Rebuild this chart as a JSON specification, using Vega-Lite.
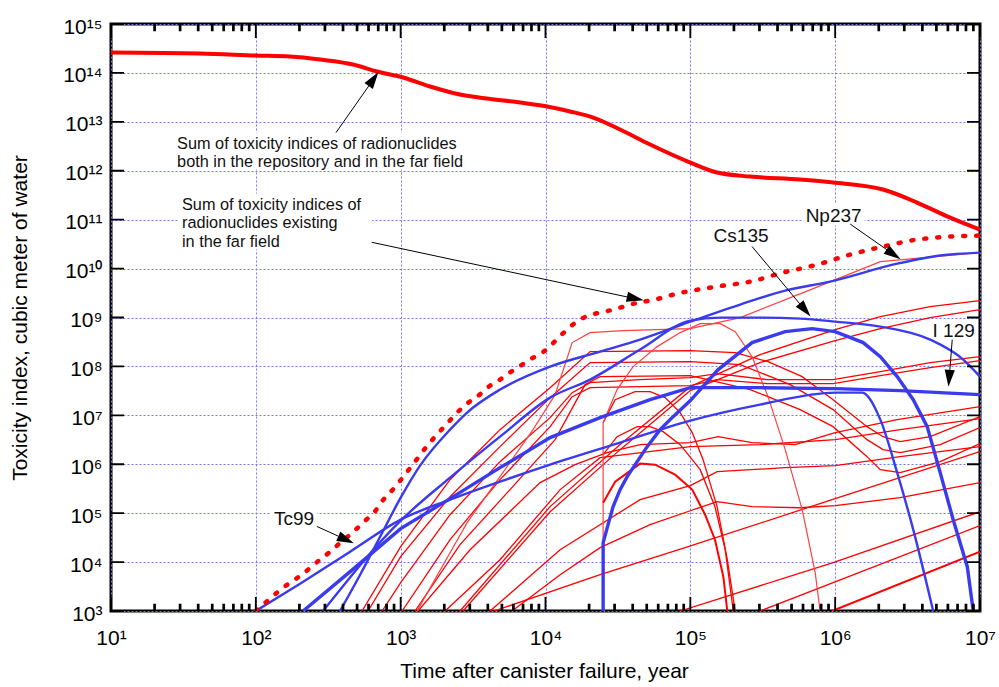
{
"$schema": "https://vega.github.io/schema/vega-lite/v6.json",
"width": 869, "height": 587,
"autosize": {"type": "none"},
"padding": {"left": 111, "top": 24, "right": 19, "bottom": 76},
"config": {
  "font": "Liberation Sans",
  "view": {"stroke": "black", "strokeWidth": 3},
  "axis": {"domain": false, "labelColor": "black", "titleColor": "black", "tickColor": "black", "labelFont": "Liberation Sans", "titleFont": "Liberation Sans", "titleFontWeight": "normal", "labelFlush": false, "labelOverlap": false}
},
"datasets": {
  "boxes": [
    {"b": "n1", "x": 27.2, "x2": 2832, "y": 6.04e12, "y2": 1.06e12},
    {"b": "n2", "x": 29.5, "x2": 634.6, "y": 3.42e11, "y2": 2.45e10},
    {"b": "np", "x": 6.01e5, "x2": 1.6e6, "y": 2.13e11, "y2": 7.57e10},
    {"b": "tc", "x": 127.4, "x2": 264.7, "y": 1.29e5, "y2": 4.82e4}
  ],
  "rt": [
    {"s":"Pa","x":541,"y":1000},{"s":"Pa","x":1000,"y":2.07e4},{"s":"Pa","x":2193,"y":4.84e5},{"s":"Pa","x":4853,"y":5.1e6},{"s":"Pa","x":10760,"y":3.68e7},{"s":"Pa","x":20320,"y":2.01e8},{"s":"Pa","x":1e5,"y":2.1e8},{"s":"Pa","x":2.04e5,"y":1.91e8},{"s":"Pa","x":3.44e5,"y":1.25e8},{"s":"Pa","x":5.92e5,"y":6.18e7},{"s":"Pa","x":9.68e5,"y":2.09e7},{"s":"Pa","x":1.66e6,"y":5.87e6},{"s":"Pa","x":2.14e6,"y":3.66e6},{"s":"Pa","x":2.81e6,"y":2.9e6},{"s":"Pa","x":4.53e6,"y":3.66e6},{"s":"Pa","x":1e7,"y":9.4e6},
    {"s":"Pb","x":595,"y":1000},{"s":"Pb","x":1000,"y":1.29e4},{"s":"Pb","x":2193,"y":2.17e5},{"s":"Pb","x":4853,"y":2.29e6},{"s":"Pb","x":10760,"y":2.3e7},{"s":"Pb","x":20320,"y":1.2e8},{"s":"Pb","x":1e5,"y":1.25e8},{"s":"Pb","x":2.21e5,"y":1.09e8},{"s":"Pb","x":4.89e5,"y":4.25e7},{"s":"Pb","x":9.68e5,"y":1.31e7},{"s":"Pb","x":1.66e6,"y":3.18e6},{"s":"Pb","x":2.14e6,"y":1.99e6},{"s":"Pb","x":2.81e6,"y":1.73e6},{"s":"Pb","x":5.31e6,"y":2.52e6},{"s":"Pb","x":1e7,"y":5.6e6},
    {"s":"Pe","x":1257,"y":1000},{"s":"Pe","x":2570,"y":2.27e4},{"s":"Pe","x":5690,"y":3.03e5},{"s":"Pe","x":11650,"y":3.18e6},{"s":"Pe","x":18760,"y":4.25e7},{"s":"Pe","x":23820,"y":6.18e7},{"s":"Pe","x":1e5,"y":6.49e7},{"s":"Pe","x":2.59e5,"y":3.36e7},{"s":"Pe","x":5.73e5,"y":1.31e7},{"s":"Pe","x":9.68e5,"y":5.87e6},{"s":"Pe","x":1.66e6,"y":1.43e6},{"s":"Pe","x":2.05e6,"y":7.76e5},{"s":"Pe","x":2.81e6,"y":6.73e5},{"s":"Pe","x":5.31e6,"y":1.13e6},{"s":"Pe","x":1e7,"y":2.64e6},
    {"s":"Pc","x":745,"y":1000},{"s":"Pc","x":1000,"y":3.79e3},{"s":"Pc","x":2193,"y":9.31e4},{"s":"Pc","x":4853,"y":1.13e6},{"s":"Pc","x":10760,"y":8.97e6},{"s":"Pc","x":15280,"y":2.91e7},{"s":"Pc","x":20320,"y":4.67e7},{"s":"Pc","x":45000,"y":5.37e7},{"s":"Pc","x":1e5,"y":5.9e7},{"s":"Pc","x":1.53e5,"y":7.13e7},{"s":"Pc","x":3.4e5,"y":5.37e7},{"s":"Pc","x":9.68e5,"y":5.37e7},{"s":"Pc","x":2.05e6,"y":7.83e7},{"s":"Pc","x":4.53e6,"y":1.2e8},{"s":"Pc","x":1e7,"y":1.58e8},
    {"s":"Pd","x":1023,"y":1000},{"s":"Pd","x":2193,"y":2.87e4},{"s":"Pd","x":4853,"y":4.84e5},{"s":"Pd","x":10760,"y":5.87e6},{"s":"Pd","x":15280,"y":2.41e7},{"s":"Pd","x":20320,"y":3.68e7},{"s":"Pd","x":1e5,"y":4.05e7},{"s":"Pd","x":1.53e5,"y":5.37e7},{"s":"Pd","x":3.4e5,"y":4.45e7},{"s":"Pd","x":9.68e5,"y":4.45e7},{"s":"Pd","x":2.05e6,"y":6.49e7},{"s":"Pd","x":4.53e6,"y":9.44e7},{"s":"Pd","x":1e7,"y":1.31e8},
    {"s":"Ra","x":2570,"y":1000},{"s":"Ra","x":10760,"y":1.36e5},{"s":"Ra","x":32730,"y":2.52e6},{"s":"Ra","x":1e5,"y":3.86e7},{"s":"Ra","x":3.03e5,"y":1.74e8},{"s":"Ra","x":1e6,"y":5.66e8},{"s":"Ra","x":2.05e6,"y":1.04e9},{"s":"Ra","x":4.53e6,"y":1.67e9},{"s":"Ra","x":1e7,"y":2.22e9},
    {"s":"Rb","x":2698,"y":1000},{"s":"Rb","x":10760,"y":1.07e5},{"s":"Rb","x":32730,"y":1.99e6},{"s":"Rb","x":1e5,"y":3.2e7},{"s":"Rb","x":3.03e5,"y":1.2e8},{"s":"Rb","x":1e6,"y":3.37e8},{"s":"Rb","x":2.05e6,"y":5.93e8},{"s":"Rb","x":4.53e6,"y":9.95e8},{"s":"Rb","x":1e7,"y":1.45e9},
    {"s":"L1","x":1318,"y":1000},{"s":"L1","x":3015,"y":1.79e4},{"s":"L1","x":9180,"y":4.21e5},{"s":"L1","x":16000,"y":9.82e5},{"s":"L1","x":26610,"y":1.73e6},{"s":"L1","x":45000,"y":2.52e6},{"s":"L1","x":1e5,"y":2.77e6},{"s":"L1","x":1.556e5,"y":3.66e6},{"s":"L1","x":2.67e5,"y":2.77e6},{"s":"L1","x":5.3e5,"y":2.52e6},{"s":"L1","x":1e6,"y":4.43e6},{"s":"L1","x":2.68e6,"y":8.17e6},{"s":"L1","x":1e7,"y":1.51e7},
    {"s":"L2","x":2027,"y":1000},{"s":"L2","x":4853,"y":1.12e4},{"s":"L2","x":12620,"y":3.03e5},{"s":"L2","x":23820,"y":1.36e6},{"s":"L2","x":1e5,"y":2.29e6},{"s":"L2","x":3.03e5,"y":2.52e6},{"s":"L2","x":1e6,"y":3.18e6},{"s":"L2","x":2.81e6,"y":5.1e6},{"s":"L2","x":1e7,"y":8.57e6},
    {"s":"K","x":4141,"y":1000},{"s":"K","x":12620,"y":1.79e4},{"s":"K","x":45000,"y":1.89e5},{"s":"K","x":1e5,"y":3.65e5},{"s":"K","x":1.53e5,"y":7.06e5},{"s":"K","x":4.52e5,"y":8.51e5},{"s":"K","x":1e6,"y":9.35e5},{"s":"K","x":2.81e6,"y":1.43e6},{"s":"K","x":1e7,"y":2.29e6},
    {"s":"L3","x":5875,"y":1000},{"s":"L3","x":12620,"y":5.52e3},{"s":"L3","x":23820,"y":1.97e4},{"s":"L3","x":52760,"y":5.82e4},{"s":"L3","x":1e5,"y":1.12e5},{"s":"L3","x":1.53e5,"y":1.72e5},{"s":"L3","x":2.67e5,"y":1.36e5},{"s":"L3","x":5.73e5,"y":1.29e5},{"s":"L3","x":1e6,"y":1.42e5},{"s":"L3","x":2.81e6,"y":2.07e5},{"s":"L3","x":1e7,"y":4.21e5},
    {"s":"S3","x":4416,"y":1000},{"s":"S3","x":23820,"y":5.52e3},{"s":"S3","x":92050,"y":1.97e4},{"s":"S3","x":1e6,"y":1.98e5},{"s":"S3","x":1e7,"y":1.81e6},
    {"s":"S4","x":85110,"y":1000},{"s":"S4","x":9.68e5,"y":9.72e3},{"s":"S4","x":1e7,"y":1.07e5},
    {"s":"S5","x":3.03e5,"y":1000},{"s":"S5","x":1e7,"y":5.55e4},
    {"s":"R3","x":25000,"y":7.1e6},{"s":"R3","x":30270,"y":2.09e7},{"s":"R3","x":41590,"y":3.05e7},{"s":"R3","x":52760,"y":3.05e7},{"s":"R3","x":66990,"y":2.3e7},{"s":"R3","x":85110,"y":1.14e7},{"s":"R3","x":1.03e5,"y":4.43e6},{"s":"R3","x":1.225e5,"y":1.24e6},{"s":"R3","x":1.53e5,"y":1.36e5},{"s":"R3","x":1.8e5,"y":1.12e4},{"s":"R3","x":2.04e5,"y":1000},
    {"s":"R4","x":25000,"y":1.57e6},{"s":"R4","x":31200,"y":3.66e6},{"s":"R4","x":42950,"y":5.87e6},{"s":"R4","x":52760,"y":5.87e6},{"s":"R4","x":64860,"y":4.64e6},{"s":"R4","x":85110,"y":2.52e6},{"s":"R4","x":1.17e5,"y":7.76e5},{"s":"R4","x":1.48e5,"y":1.36e5},{"s":"R4","x":1.74e5,"y":1.79e4},{"s":"R4","x":1.98e5,"y":1000}
  ],
  "rl": [
    {"s":"R1","x":1297,"y":1000},{"s":"R1","x":2877,"y":6.4e4},{"s":"R1","x":4853,"y":5.57e5},{"s":"R1","x":8204,"y":5.1e6},{"s":"R1","x":11650,"y":2.65e7},{"s":"R1","x":15280,"y":3.07e8},{"s":"R1","x":20320,"y":4.91e8},{"s":"R1","x":34360,"y":5.4e8},{"s":"R1","x":1e5,"y":5.93e8},{"s":"R1","x":2.21e5,"y":9.95e8},{"s":"R1","x":6.51e5,"y":3.55e9},{"s":"R1","x":2.05e6,"y":1.39e10},{"s":"R1","x":1e7,"y":2.12e10},
    {"s":"R2","x":25000,"y":1000},{"s":"R2","x":25000,"y":7.1e6},{"s":"R2","x":31200,"y":3.36e7},{"s":"R2","x":40270,"y":9.9e7},{"s":"R2","x":59020,"y":2.54e8},{"s":"R2","x":85110,"y":4.91e8},{"s":"R2","x":1.17e5,"y":7.5e8},{"s":"R2","x":1.61e5,"y":7.5e8},{"s":"R2","x":2.04e5,"y":5.15e8},{"s":"R2","x":2.67e5,"y":1.58e8},{"s":"R2","x":3.44e5,"y":2.41e7},{"s":"R2","x":4.52e5,"y":1.99e6},{"s":"R2","x":5.92e5,"y":1.18e5},{"s":"R2","x":7.28e5,"y":6.07e3},{"s":"R2","x":7.87e5,"y":1000}
  ],
  "rk": [
    {"s":"R5","x":25000,"y":1.64e5},{"s":"R5","x":30270,"y":4.41e5},{"s":"R5","x":45000,"y":1.03e6},{"s":"R5","x":57140,"y":9.82e5},{"s":"R5","x":78520,"y":6.12e5},{"s":"R5","x":1.03e5,"y":3.03e5},{"s":"R5","x":1.265e5,"y":9.31e4},{"s":"R5","x":1.48e5,"y":2.87e4},{"s":"R5","x":1.69e5,"y":5.02e3},{"s":"R5","x":1.8e5,"y":1000},
    {"s":"S6","x":9.53e5,"y":1000},{"s":"S6","x":1e7,"y":1.63e4}
  ],
  "bt": [
    {"s":"Np237","x":381,"y":1000},{"s":"Np237","x":525,"y":5.52e3},{"s":"Np237","x":721,"y":3.3e4},{"s":"Np237","x":1000,"y":2.07e5},{"s":"Np237","x":1361,"y":9.35e5},{"s":"Np237","x":2193,"y":5.1e6},{"s":"Np237","x":2877,"y":1.14e7},{"s":"Np237","x":4853,"y":3.36e7},{"s":"Np237","x":10760,"y":9.9e7},{"s":"Np237","x":23820,"y":2.01e8},{"s":"Np237","x":45000,"y":3.53e8},{"s":"Np237","x":1e5,"y":8.24e8},{"s":"Np237","x":2.21e5,"y":1.84e9},{"s":"Np237","x":4.52e5,"y":3.55e9},{"s":"Np237","x":9.23e5,"y":5.42e9},{"s":"Np237","x":2.68e6,"y":1.26e10},{"s":"Np237","x":5.31e6,"y":1.85e10},{"s":"Np237","x":1e7,"y":2.12e10},
    {"s":"Cs135","x":291,"y":1000},{"s":"Cs135","x":1000,"y":7.03e4},{"s":"Cs135","x":2193,"y":5.32e5},{"s":"Cs135","x":4853,"y":3.66e6},{"s":"Cs135","x":10760,"y":2.3e7},{"s":"Cs135","x":20320,"y":5.37e7},{"s":"Cs135","x":45000,"y":2.21e8},{"s":"Cs135","x":1e5,"y":8.65e8},{"s":"Cs135","x":1.61e5,"y":9.95e8},{"s":"Cs135","x":3.03e5,"y":9.95e8},{"s":"Cs135","x":5.73e5,"y":9.5e8},{"s":"Cs135","x":1e6,"y":8.24e8},{"s":"Cs135","x":2.05e6,"y":6.52e8},{"s":"Cs135","x":4.53e6,"y":3.53e8},{"s":"Cs135","x":7.66e6,"y":1.38e8},{"s":"Cs135","x":1e7,"y":6.18e7},
    {"s":"Tc99","x":100,"y":1000},{"s":"Tc99","x":202,"y":3.61e3},{"s":"Tc99","x":448,"y":1.63e4},{"s":"Tc99","x":1000,"y":7.36e4},{"s":"Tc99","x":2193,"y":1.89e5},{"s":"Tc99","x":4853,"y":4.41e5},{"s":"Tc99","x":10760,"y":9.82e5},{"s":"Tc99","x":32730,"y":2.77e6},{"s":"Tc99","x":1e5,"y":7.8e6},{"s":"Tc99","x":3.03e5,"y":1.66e7},{"s":"Tc99","x":1e6,"y":2.91e7},{"s":"Tc99","x":1.535e6,"y":2.91e7},{"s":"Tc99","x":2.05e6,"y":8.17e6},{"s":"Tc99","x":2.68e6,"y":6.73e5},{"s":"Tc99","x":3.46e6,"y":4.6e4},{"s":"Tc99","x":4.75e6,"y":1000}
  ],
  "bk": [
    {"s":"I129","x":212,"y":1000},{"s":"I129","x":448,"y":6.37e3},{"s":"I129","x":1000,"y":4.82e4},{"s":"I129","x":2193,"y":1.98e5},{"s":"I129","x":4853,"y":8.51e5},{"s":"I129","x":10760,"y":3.5e6},{"s":"I129","x":23820,"y":8.97e6},{"s":"I129","x":52760,"y":2.09e7},{"s":"I129","x":1e5,"y":3.68e7},{"s":"I129","x":3.03e5,"y":3.68e7},{"s":"I129","x":1e6,"y":3.52e7},{"s":"I129","x":2.81e6,"y":3.2e7},{"s":"I129","x":1e7,"y":2.65e7},
    {"s":"B5","x":25000,"y":1000},{"s":"B5","x":25000,"y":2.49e4},{"s":"B5","x":27040,"y":5.82e4},{"s":"B5","x":29300,"y":1.36e5},{"s":"B5","x":32730,"y":3.03e5},{"s":"B5","x":36640,"y":5.57e5},{"s":"B5","x":42950,"y":1.13e6},{"s":"B5","x":50350,"y":2.29e6},{"s":"B5","x":61820,"y":5.1e6},{"s":"B5","x":76040,"y":9.4e6},{"s":"B5","x":1e5,"y":2.0e7},{"s":"B5","x":1.556e5,"y":8.61e7},{"s":"B5","x":2.67e5,"y":3.07e8},{"s":"B5","x":4.52e5,"y":5.15e8},{"s":"B5","x":6.93e5,"y":5.93e8},{"s":"B5","x":1e6,"y":5.15e8},{"s":"B5","x":1.56e6,"y":3.07e8},{"s":"B5","x":2.05e6,"y":1.58e8},{"s":"B5","x":2.68e6,"y":6.18e7},{"s":"B5","x":3.46e6,"y":2.09e7},{"s":"B5","x":4.32e6,"y":5.87e6},{"s":"B5","x":5.31e6,"y":6.73e5},{"s":"B5","x":6.53e6,"y":7.36e4},{"s":"B5","x":8.17e6,"y":8.05e3},{"s":"B5","x":8.98e6,"y":1000}
  ],
  "tot": [
    {"x":10,"y":2.61e14},{"x":41.2,"y":2.5e14},{"x":100,"y":2.27e14},{"x":172,"y":2.16e14},{"x":277,"y":1.88e14},{"x":469,"y":1.49e14},{"x":687,"y":1.07e14},{"x":1040,"y":8.06e13},{"x":1596,"y":5.27e13},{"x":2570,"y":3.61e13},{"x":3953,"y":2.99e13},{"x":6680,"y":2.48e13},{"x":10260,"y":2.06e13},{"x":14790,"y":1.63e13},{"x":21320,"y":1.22e13},{"x":32730,"y":6.97e12},{"x":52760,"y":3.44e12},{"x":1e5,"y":1.47e12},{"x":1.53e5,"y":9.2e11},{"x":2.59e5,"y":7.6e11},{"x":5.73e5,"y":6.6e11},{"x":9.68e5,"y":5.74e11},{"x":2.14e6,"y":4.13e11},{"x":3.68e6,"y":2.24e11},{"x":6.22e6,"y":1.1e11},{"x":1e7,"y":6.27e10}
  ],
  "far": [
    {"x":100,"y":1000},{"x":119,"y":1.57e3},{"x":139,"y":2.33e3},{"x":167,"y":3.56e3},{"x":200,"y":5.1e3},{"x":237,"y":7.57e3},{"x":277,"y":1.12e4},{"x":329,"y":1.66e4},{"x":392,"y":2.65e4},{"x":467,"y":4.05e4},{"x":552,"y":6.49e4},{"x":665,"y":1.09e5},{"x":760,"y":1.89e5},{"x":882,"y":3.03e5},{"x":1018,"y":5.08e5},{"x":1162,"y":8.4e5},{"x":1318,"y":1.36e6},{"x":1514,"y":2.32e6},{"x":1754,"y":3.85e6},{"x":2060,"y":6.46e6},{"x":2415,"y":1.08e7},{"x":2858,"y":1.71e7},{"x":3442,"y":2.53e7},{"x":4036,"y":3.81e7},{"x":4853,"y":5.37e7},{"x":5702,"y":7.57e7},{"x":6750,"y":1.04e8},{"x":8035,"y":1.45e8},{"x":9570,"y":1.94e8},{"x":11340,"y":3.03e8},{"x":13300,"y":4.84e8},{"x":16000,"y":7.76e8},{"x":19280,"y":1.06e9},{"x":23170,"y":1.24e9},{"x":27910,"y":1.4e9},{"x":45000,"y":2.05e9},{"x":54200,"y":2.25e9},{"x":76400,"y":2.94e9},{"x":89500,"y":3.27e9},{"x":1.53e5,"y":4.29e9},{"x":2.59e5,"y":5.42e9},{"x":4.37e5,"y":8.28e9},{"x":7.52e5,"y":1.21e10},{"x":1.27e6,"y":1.93e10},{"x":2.14e6,"y":2.82e10},{"x":3.68e6,"y":3.92e10},{"x":6.22e6,"y":4.51e10},{"x":1e7,"y":4.73e10}
  ],
  "segs": [
    {"k":"arrow","x":358,"y":6.04e12,"x2":605,"y2":5.52e13},
    {"k":"arrow","x":631,"y":3.45e10,"x2":36840,"y2":2.62e9},
    {"k":"arrow","x":263.4,"y":5.37e4,"x2":373.6,"y2":3.36e4},
    {"k":"arrow","x":1.27e6,"y":8.13e10,"x2":2.28e6,"y2":2.42e10},
    {"k":"arrow","x":2.67e5,"y":2.82e10,"x2":5.71e5,"y2":1.89e9},
    {"k":"arrow","x":6.43e6,"y":3.53e8,"x2":6.19e6,"y2":8.32e7},
    {"k":"major","x":10.01,"y":1000,"x2":10.02,"y2":1932},{"k":"major","x":100,"y":1000,"x2":100.01,"y2":1932},{"k":"major","x":1000,"y":1000,"x2":1000.1,"y2":1932},{"k":"major","x":10000,"y":1000,"x2":10001,"y2":1932},{"k":"major","x":100000,"y":1000,"x2":100010,"y2":1932},{"k":"major","x":1000000,"y":1000,"x2":1000100,"y2":1932},{"k":"major","x":9999000,"y":1000,"x2":9998000,"y2":1932},
    {"k":"major","x":10.01,"y":1e15,"x2":10.02,"y2":5.18e14},{"k":"major","x":100,"y":1e15,"x2":100.01,"y2":5.18e14},{"k":"major","x":1000,"y":1e15,"x2":1000.1,"y2":5.18e14},{"k":"major","x":10000,"y":1e15,"x2":10001,"y2":5.18e14},{"k":"major","x":100000,"y":1e15,"x2":100010,"y2":5.18e14},{"k":"major","x":1000000,"y":1e15,"x2":1000100,"y2":5.18e14},{"k":"major","x":9999000,"y":1e15,"x2":9998000,"y2":5.18e14},
    {"k":"major","x":10,"y":1.001e3,"x2":12.3,"y2":1.002e3},{"k":"major","x":10,"y":1e4,"x2":12.3,"y2":1.0001e4},{"k":"major","x":10,"y":1e5,"x2":12.3,"y2":1.0001e5},{"k":"major","x":10,"y":1e6,"x2":12.3,"y2":1.0001e6},{"k":"major","x":10,"y":1e7,"x2":12.3,"y2":1.0001e7},{"k":"major","x":10,"y":1e8,"x2":12.3,"y2":1.0001e8},{"k":"major","x":10,"y":1e9,"x2":12.3,"y2":1.0001e9},{"k":"major","x":10,"y":1e10,"x2":12.3,"y2":1.0001e10},{"k":"major","x":10,"y":1e11,"x2":12.3,"y2":1.0001e11},{"k":"major","x":10,"y":1e12,"x2":12.3,"y2":1.0001e12},{"k":"major","x":10,"y":1e13,"x2":12.3,"y2":1.0001e13},{"k":"major","x":10,"y":1e14,"x2":12.3,"y2":1.0001e14},{"k":"major","x":10,"y":9.99e14,"x2":12.3,"y2":9.98e14},
    {"k":"major","x":1e7,"y":1.001e3,"x2":8.13e6,"y2":1.002e3},{"k":"major","x":1e7,"y":1e4,"x2":8.13e6,"y2":1.0001e4},{"k":"major","x":1e7,"y":1e5,"x2":8.13e6,"y2":1.0001e5},{"k":"major","x":1e7,"y":1e6,"x2":8.13e6,"y2":1.0001e6},{"k":"major","x":1e7,"y":1e7,"x2":8.13e6,"y2":1.0001e7},{"k":"major","x":1e7,"y":1e8,"x2":8.13e6,"y2":1.0001e8},{"k":"major","x":1e7,"y":1e9,"x2":8.13e6,"y2":1.0001e9},{"k":"major","x":1e7,"y":1e10,"x2":8.13e6,"y2":1.0001e10},{"k":"major","x":1e7,"y":1e11,"x2":8.13e6,"y2":1.0001e11},{"k":"major","x":1e7,"y":1e12,"x2":8.13e6,"y2":1.0001e12},{"k":"major","x":1e7,"y":1e13,"x2":8.13e6,"y2":1.0001e13},{"k":"major","x":1e7,"y":1e14,"x2":8.13e6,"y2":1.0001e14},{"k":"major","x":1e7,"y":9.99e14,"x2":8.13e6,"y2":9.98e14},
    {"k":"minor","x":20,"y":1000,"x2":20.001,"y2":1400},{"k":"minor","x":30,"y":1000,"x2":30.001,"y2":1400},{"k":"minor","x":40,"y":1000,"x2":40.001,"y2":1400},{"k":"minor","x":50,"y":1000,"x2":50.001,"y2":1400},{"k":"minor","x":60,"y":1000,"x2":60.001,"y2":1400},{"k":"minor","x":70,"y":1000,"x2":70.001,"y2":1400},{"k":"minor","x":80,"y":1000,"x2":80.001,"y2":1400},{"k":"minor","x":90,"y":1000,"x2":90.001,"y2":1400},
    {"k":"minor","x":200,"y":1000,"x2":200.01,"y2":1400},{"k":"minor","x":300,"y":1000,"x2":300.01,"y2":1400},{"k":"minor","x":400,"y":1000,"x2":400.01,"y2":1400},{"k":"minor","x":500,"y":1000,"x2":500.01,"y2":1400},{"k":"minor","x":600,"y":1000,"x2":600.01,"y2":1400},{"k":"minor","x":700,"y":1000,"x2":700.01,"y2":1400},{"k":"minor","x":800,"y":1000,"x2":800.01,"y2":1400},{"k":"minor","x":900,"y":1000,"x2":900.01,"y2":1400},
    {"k":"minor","x":2000,"y":1000,"x2":2000.1,"y2":1400},{"k":"minor","x":3000,"y":1000,"x2":3000.1,"y2":1400},{"k":"minor","x":4000,"y":1000,"x2":4000.1,"y2":1400},{"k":"minor","x":5000,"y":1000,"x2":5000.1,"y2":1400},{"k":"minor","x":6000,"y":1000,"x2":6000.1,"y2":1400},{"k":"minor","x":7000,"y":1000,"x2":7000.1,"y2":1400},{"k":"minor","x":8000,"y":1000,"x2":8000.1,"y2":1400},{"k":"minor","x":9000,"y":1000,"x2":9000.1,"y2":1400},
    {"k":"minor","x":20000,"y":1000,"x2":20001,"y2":1400},{"k":"minor","x":30000,"y":1000,"x2":30001,"y2":1400},{"k":"minor","x":40000,"y":1000,"x2":40001,"y2":1400},{"k":"minor","x":50000,"y":1000,"x2":50001,"y2":1400},{"k":"minor","x":60000,"y":1000,"x2":60001,"y2":1400},{"k":"minor","x":70000,"y":1000,"x2":70001,"y2":1400},{"k":"minor","x":80000,"y":1000,"x2":80001,"y2":1400},{"k":"minor","x":90000,"y":1000,"x2":90001,"y2":1400},
    {"k":"minor","x":200000,"y":1000,"x2":200010,"y2":1400},{"k":"minor","x":300000,"y":1000,"x2":300010,"y2":1400},{"k":"minor","x":400000,"y":1000,"x2":400010,"y2":1400},{"k":"minor","x":500000,"y":1000,"x2":500010,"y2":1400},{"k":"minor","x":600000,"y":1000,"x2":600010,"y2":1400},{"k":"minor","x":700000,"y":1000,"x2":700010,"y2":1400},{"k":"minor","x":800000,"y":1000,"x2":800010,"y2":1400},{"k":"minor","x":900000,"y":1000,"x2":900010,"y2":1400},
    {"k":"minor","x":2000000,"y":1000,"x2":2000100,"y2":1400},{"k":"minor","x":3000000,"y":1000,"x2":3000100,"y2":1400},{"k":"minor","x":4000000,"y":1000,"x2":4000100,"y2":1400},{"k":"minor","x":5000000,"y":1000,"x2":5000100,"y2":1400},{"k":"minor","x":6000000,"y":1000,"x2":6000100,"y2":1400},{"k":"minor","x":7000000,"y":1000,"x2":7000100,"y2":1400},{"k":"minor","x":8000000,"y":1000,"x2":8000100,"y2":1400},{"k":"minor","x":9000000,"y":1000,"x2":9000100,"y2":1400},
    {"k":"minor","x":20,"y":1e15,"x2":20.001,"y2":7.15e14},{"k":"minor","x":30,"y":1e15,"x2":30.001,"y2":7.15e14},{"k":"minor","x":40,"y":1e15,"x2":40.001,"y2":7.15e14},{"k":"minor","x":50,"y":1e15,"x2":50.001,"y2":7.15e14},{"k":"minor","x":60,"y":1e15,"x2":60.001,"y2":7.15e14},{"k":"minor","x":70,"y":1e15,"x2":70.001,"y2":7.15e14},{"k":"minor","x":80,"y":1e15,"x2":80.001,"y2":7.15e14},{"k":"minor","x":90,"y":1e15,"x2":90.001,"y2":7.15e14},
    {"k":"minor","x":200,"y":1e15,"x2":200.01,"y2":7.15e14},{"k":"minor","x":300,"y":1e15,"x2":300.01,"y2":7.15e14},{"k":"minor","x":400,"y":1e15,"x2":400.01,"y2":7.15e14},{"k":"minor","x":500,"y":1e15,"x2":500.01,"y2":7.15e14},{"k":"minor","x":600,"y":1e15,"x2":600.01,"y2":7.15e14},{"k":"minor","x":700,"y":1e15,"x2":700.01,"y2":7.15e14},{"k":"minor","x":800,"y":1e15,"x2":800.01,"y2":7.15e14},{"k":"minor","x":900,"y":1e15,"x2":900.01,"y2":7.15e14},
    {"k":"minor","x":2000,"y":1e15,"x2":2000.1,"y2":7.15e14},{"k":"minor","x":3000,"y":1e15,"x2":3000.1,"y2":7.15e14},{"k":"minor","x":4000,"y":1e15,"x2":4000.1,"y2":7.15e14},{"k":"minor","x":5000,"y":1e15,"x2":5000.1,"y2":7.15e14},{"k":"minor","x":6000,"y":1e15,"x2":6000.1,"y2":7.15e14},{"k":"minor","x":7000,"y":1e15,"x2":7000.1,"y2":7.15e14},{"k":"minor","x":8000,"y":1e15,"x2":8000.1,"y2":7.15e14},{"k":"minor","x":9000,"y":1e15,"x2":9000.1,"y2":7.15e14},
    {"k":"minor","x":20000,"y":1e15,"x2":20001,"y2":7.15e14},{"k":"minor","x":30000,"y":1e15,"x2":30001,"y2":7.15e14},{"k":"minor","x":40000,"y":1e15,"x2":40001,"y2":7.15e14},{"k":"minor","x":50000,"y":1e15,"x2":50001,"y2":7.15e14},{"k":"minor","x":60000,"y":1e15,"x2":60001,"y2":7.15e14},{"k":"minor","x":70000,"y":1e15,"x2":70001,"y2":7.15e14},{"k":"minor","x":80000,"y":1e15,"x2":80001,"y2":7.15e14},{"k":"minor","x":90000,"y":1e15,"x2":90001,"y2":7.15e14},
    {"k":"minor","x":200000,"y":1e15,"x2":200010,"y2":7.15e14},{"k":"minor","x":300000,"y":1e15,"x2":300010,"y2":7.15e14},{"k":"minor","x":400000,"y":1e15,"x2":400010,"y2":7.15e14},{"k":"minor","x":500000,"y":1e15,"x2":500010,"y2":7.15e14},{"k":"minor","x":600000,"y":1e15,"x2":600010,"y2":7.15e14},{"k":"minor","x":700000,"y":1e15,"x2":700010,"y2":7.15e14},{"k":"minor","x":800000,"y":1e15,"x2":800010,"y2":7.15e14},{"k":"minor","x":900000,"y":1e15,"x2":900010,"y2":7.15e14},
    {"k":"minor","x":2000000,"y":1e15,"x2":2000100,"y2":7.15e14},{"k":"minor","x":3000000,"y":1e15,"x2":3000100,"y2":7.15e14},{"k":"minor","x":4000000,"y":1e15,"x2":4000100,"y2":7.15e14},{"k":"minor","x":5000000,"y":1e15,"x2":5000100,"y2":7.15e14},{"k":"minor","x":6000000,"y":1e15,"x2":6000100,"y2":7.15e14},{"k":"minor","x":7000000,"y":1e15,"x2":7000100,"y2":7.15e14},{"k":"minor","x":8000000,"y":1e15,"x2":8000100,"y2":7.15e14},{"k":"minor","x":9000000,"y":1e15,"x2":9000100,"y2":7.15e14}
  ],
  "heads": [
    {"a":"total","x":650,"y":7.5e13},
    {"a":"far","x":41690,"y":2.44e9},
    {"a":"tc","x":419.8,"y":2.87e4},
    {"a":"np","x":2.53e6,"y":1.95e10},
    {"a":"cs","x":6.2e5,"y":1.42e9},
    {"a":"i","x":6.12e6,"y":5.71e7}
  ],
  "notes": [
    {"x":28.6,"y":5.25e12,"t":["Sum of toxicity indices of radionuclides","both in the repository and in the far field"]},
    {"x":30.9,"y":2.97e11,"t":["Sum of toxicity indices of","radionuclides existing","in the far field"]}
  ],
  "labels": [
    {"x":183.6,"y":5.74e4,"t":"Tc99"},
    {"x":9.76e5,"y":9.15e10,"t":"Np237"},
    {"x":2.24e5,"y":3.56e10,"t":"Cs135"},
    {"x":6.58e6,"y":4.06e8,"t":"I 129"}
  ]
},
"layer": [
  {
    "data": {"name": "boxes"},
    "mark": {"type": "rect", "color": "white", "opacity": 1},
    "encoding": {
      "x": {"field": "x", "type": "quantitative", "scale": {"type": "log", "domain": [10, 10000000], "nice": false},
        "axis": {"orient": "bottom", "values": [10,100,1000,10000,100000,1000000,10000000], "ticks": false, "labelFontSize": 21, "labelPadding": 16, "labelBaseline": "top",
          "labelExpr": "['10¹','10²','10³','10⁴','10⁵','10⁶','10⁷'][round(log(datum.value)/LN10)-1]",
          "grid": true, "gridColor": "#7474ff", "gridDash": [2,2], "gridWidth": 1,
          "title": "Time after canister failure, year", "titleFontSize": 21, "titleX": 433, "titleY": 66, "titleBaseline": "alphabetic", "titleAlign": "center"}},
      "x2": {"field": "x2"},
      "y": {"field": "y", "type": "quantitative", "scale": {"type": "log", "domain": [1000, 1e15], "nice": false},
        "axis": {"orient": "left", "values": [1e3,1e4,1e5,1e6,1e7,1e8,1e9,1e10,1e11,1e12,1e13,1e14,1e15], "ticks": false, "labelFontSize": 21, "labelPadding": 9, "labelOffset": 3,
          "labelExpr": "['10³','10⁴','10⁵','10⁶','10⁷','10⁸','10⁹','10¹⁰','10¹¹','10¹²','10¹³','10¹⁴','10¹⁵'][round(log(datum.value)/LN10)-3]",
          "grid": true, "gridColor": "#7474ff", "gridDash": [2,2], "gridWidth": 1,
          "title": "Toxicity index, cubic meter of water", "titleFontSize": 21, "titleX": -91, "titleY": 293.5, "titleBaseline": "middle", "titleAlign": "center", "titleAngle": 270}},
      "y2": {"field": "y2"}
    }
  },
  {
    "data": {"name": "rt"},
    "mark": {"type": "line", "color": "#ff0000", "strokeWidth": 1.3, "clip": true},
    "encoding": {
      "x": {"field": "x", "type": "quantitative", "scale": {"type": "log", "domain": [10, 10000000], "nice": false}},
      "y": {"field": "y", "type": "quantitative", "scale": {"type": "log", "domain": [1000, 1e15], "nice": false}},
      "detail": {"field": "s"},
      "order": {"value": null}
    }
  },
  {
    "data": {"name": "rl"},
    "mark": {"type": "line", "color": "#ff4040", "strokeWidth": 1.2, "clip": true},
    "encoding": {
      "x": {"field": "x", "type": "quantitative", "scale": {"type": "log", "domain": [10, 10000000], "nice": false}},
      "y": {"field": "y", "type": "quantitative", "scale": {"type": "log", "domain": [1000, 1e15], "nice": false}},
      "detail": {"field": "s"},
      "order": {"value": null}
    }
  },
  {
    "data": {"name": "rk"},
    "mark": {"type": "line", "color": "#ff0000", "strokeWidth": 2, "clip": true},
    "encoding": {
      "x": {"field": "x", "type": "quantitative", "scale": {"type": "log", "domain": [10, 10000000], "nice": false}},
      "y": {"field": "y", "type": "quantitative", "scale": {"type": "log", "domain": [1000, 1e15], "nice": false}},
      "detail": {"field": "s"},
      "order": {"value": null}
    }
  },
  {
    "data": {"name": "bt"},
    "mark": {"type": "line", "color": "#3a3aee", "strokeWidth": 2.4, "interpolate": "monotone", "clip": true},
    "encoding": {
      "x": {"field": "x", "type": "quantitative", "scale": {"type": "log", "domain": [10, 10000000], "nice": false}},
      "y": {"field": "y", "type": "quantitative", "scale": {"type": "log", "domain": [1000, 1e15], "nice": false}},
      "detail": {"field": "s"},
      "order": {"value": null}
    }
  },
  {
    "data": {"name": "bk"},
    "mark": {"type": "line", "color": "#3a3aee", "strokeWidth": 3.4, "clip": true},
    "encoding": {
      "x": {"field": "x", "type": "quantitative", "scale": {"type": "log", "domain": [10, 10000000], "nice": false}},
      "y": {"field": "y", "type": "quantitative", "scale": {"type": "log", "domain": [1000, 1e15], "nice": false}},
      "detail": {"field": "s"},
      "order": {"value": null}
    }
  },
  {
    "data": {"name": "tot"},
    "mark": {"type": "line", "color": "#ff0000", "strokeWidth": 4, "interpolate": "monotone", "clip": true},
    "encoding": {
      "x": {"field": "x", "type": "quantitative", "scale": {"type": "log", "domain": [10, 10000000], "nice": false}},
      "y": {"field": "y", "type": "quantitative", "scale": {"type": "log", "domain": [1000, 1e15], "nice": false}}
    }
  },
  {
    "data": {"name": "far"},
    "mark": {"type": "line", "color": "#ff0000", "strokeWidth": 4.5, "strokeDash": [2, 11], "strokeCap": "round", "interpolate": "monotone", "clip": true},
    "encoding": {
      "x": {"field": "x", "type": "quantitative", "scale": {"type": "log", "domain": [10, 10000000], "nice": false}},
      "y": {"field": "y", "type": "quantitative", "scale": {"type": "log", "domain": [1000, 1e15], "nice": false}}
    }
  },
  {
    "data": {"name": "segs"},
    "mark": {"type": "rule", "color": "black"},
    "encoding": {
      "x": {"field": "x", "type": "quantitative", "scale": {"type": "log", "domain": [10, 10000000], "nice": false}},
      "y": {"field": "y", "type": "quantitative", "scale": {"type": "log", "domain": [1000, 1e15], "nice": false}},
      "x2": {"field": "x2"},
      "y2": {"field": "y2"},
      "strokeWidth": {"field": "k", "type": "nominal", "scale": {"domain": ["arrow", "major", "minor"], "range": [1, 2.7, 2]}, "legend": null}
    }
  },
  {"data": {"name": "heads"}, "transform": [{"filter": "datum.a == 'total'"}],
   "mark": {"type": "point", "shape": "M0,-1L0.6,1L-0.6,1Z", "filled": true, "color": "black", "opacity": 1, "size": 289, "angle": 35},
   "encoding": {"x": {"field": "x", "type": "quantitative", "scale": {"type": "log", "domain": [10, 10000000], "nice": false}},
                "y": {"field": "y", "type": "quantitative", "scale": {"type": "log", "domain": [1000, 1e15], "nice": false}}}},
  {"data": {"name": "heads"}, "transform": [{"filter": "datum.a == 'far'"}],
   "mark": {"type": "point", "shape": "M0,-1L0.6,1L-0.6,1Z", "filled": true, "color": "black", "opacity": 1, "size": 289, "angle": 102},
   "encoding": {"x": {"field": "x", "type": "quantitative", "scale": {"type": "log", "domain": [10, 10000000], "nice": false}},
                "y": {"field": "y", "type": "quantitative", "scale": {"type": "log", "domain": [1000, 1e15], "nice": false}}}},
  {"data": {"name": "heads"}, "transform": [{"filter": "datum.a == 'tc'"}],
   "mark": {"type": "point", "shape": "M0,-1L0.6,1L-0.6,1Z", "filled": true, "color": "black", "opacity": 1, "size": 289, "angle": 114},
   "encoding": {"x": {"field": "x", "type": "quantitative", "scale": {"type": "log", "domain": [10, 10000000], "nice": false}},
                "y": {"field": "y", "type": "quantitative", "scale": {"type": "log", "domain": [1000, 1e15], "nice": false}}}},
  {"data": {"name": "heads"}, "transform": [{"filter": "datum.a == 'np'"}],
   "mark": {"type": "point", "shape": "M0,-1L0.6,1L-0.6,1Z", "filled": true, "color": "black", "opacity": 1, "size": 289, "angle": 124.5},
   "encoding": {"x": {"field": "x", "type": "quantitative", "scale": {"type": "log", "domain": [10, 10000000], "nice": false}},
                "y": {"field": "y", "type": "quantitative", "scale": {"type": "log", "domain": [1000, 1e15], "nice": false}}}},
  {"data": {"name": "heads"}, "transform": [{"filter": "datum.a == 'cs'"}],
   "mark": {"type": "point", "shape": "M0,-1L0.6,1L-0.6,1Z", "filled": true, "color": "black", "opacity": 1, "size": 289, "angle": 140},
   "encoding": {"x": {"field": "x", "type": "quantitative", "scale": {"type": "log", "domain": [10, 10000000], "nice": false}},
                "y": {"field": "y", "type": "quantitative", "scale": {"type": "log", "domain": [1000, 1e15], "nice": false}}}},
  {"data": {"name": "heads"}, "transform": [{"filter": "datum.a == 'i'"}],
   "mark": {"type": "point", "shape": "M0,-1L0.6,1L-0.6,1Z", "filled": true, "color": "black", "opacity": 1, "size": 289, "angle": 184.5},
   "encoding": {"x": {"field": "x", "type": "quantitative", "scale": {"type": "log", "domain": [10, 10000000], "nice": false}},
                "y": {"field": "y", "type": "quantitative", "scale": {"type": "log", "domain": [1000, 1e15], "nice": false}}}},
  {
    "data": {"name": "notes"},
    "mark": {"type": "text", "align": "left", "baseline": "top", "fontSize": 16.3, "lineHeight": 18.7, "color": "#111111", "font": "Liberation Sans"},
    "encoding": {
      "x": {"field": "x", "type": "quantitative", "scale": {"type": "log", "domain": [10, 10000000], "nice": false}},
      "y": {"field": "y", "type": "quantitative", "scale": {"type": "log", "domain": [1000, 1e15], "nice": false}},
      "text": {"field": "t"}
    }
  },
  {
    "data": {"name": "labels"},
    "mark": {"type": "text", "align": "center", "baseline": "alphabetic", "fontSize": 19, "color": "#111111", "font": "Liberation Sans"},
    "encoding": {
      "x": {"field": "x", "type": "quantitative", "scale": {"type": "log", "domain": [10, 10000000], "nice": false}},
      "y": {"field": "y", "type": "quantitative", "scale": {"type": "log", "domain": [1000, 1e15], "nice": false}},
      "text": {"field": "t"}
    }
  }
]
}
